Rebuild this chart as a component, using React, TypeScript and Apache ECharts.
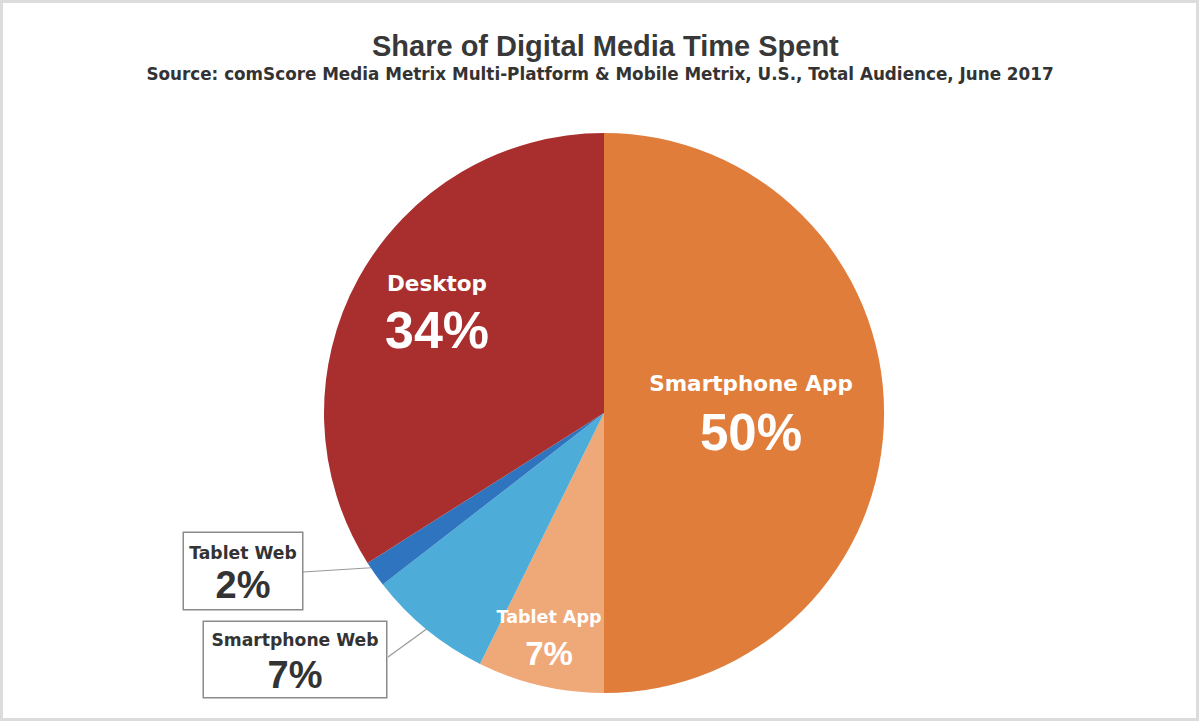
import React, { useEffect, useRef } from "react";
import * as echarts from "echarts";

const titleText = "Share of Digital Media Time Spent";
const subtitleText =
  "Source: comScore Media Metrix Multi-Platform & Mobile Metrix, U.S., Total Audience, June 2017";
const categories = ["Smartphone App", "Tablet App", "Smartphone Web", "Tablet Web", "Desktop"];
const shares = [50, 7.3, 7.2, 1.5, 34];
const sliceColors = ["#E17D3B", "#EFA878", "#4DADD8", "#2F74BF", "#A82F2E"];

// label layout (centres of label blocks), kept apart from data
const labelCentres: number[][] = [
  [751, 414],
  [549, 640],
  [295, 659.5],
  [243, 571],
  [437, 313],
];

const NAME_FONT = "'DejaVu Sans', Verdana, sans-serif";
const NUM_FONT = "'Liberation Sans', Arial, sans-serif";

function labelFor(i: number) {
  const inside = [
    { n: 21.5, nl: 36, v: 51, vl: 62 },
    { n: 17.5, nl: 26, v: 33, vl: 46 },
    null,
    null,
    { n: 21.5, nl: 34, v: 52, vl: 60 },
  ][i];
  const fmt = (p: any) => `{n|${p.name}}\n{v|${Math.round(p.value)}%}`;
  if (inside) {
    return {
      show: true,
      position: "inside",
      formatter: fmt,
      align: "center",
      rich: {
        n: { fontFamily: NAME_FONT, fontWeight: "bold", fontSize: inside.n, lineHeight: inside.nl, color: "#fff", align: "center" },
        v: { fontFamily: NUM_FONT, fontWeight: "bold", fontSize: inside.v, lineHeight: inside.vl, color: "#fff", align: "center" },
      },
    };
  }
  const box =
    i === 2
      ? { n: 17.2, nl: 26, v: 38, vl: 44, width: 182, padding: [5, 0, 0, 0] }
      : { n: 17.2, nl: 24, v: 38, vl: 40, width: 118, padding: [8, 0, 4, 0] };
  return {
    show: true,
    position: "inside",
    formatter: fmt,
    align: "center",
    backgroundColor: "#fff",
    borderColor: "#8a8a8a",
    borderWidth: 1.5,
    width: box.width,
    padding: box.padding,
    rich: {
      n: { fontFamily: NAME_FONT, fontWeight: "bold", fontSize: box.n, lineHeight: box.nl, color: "#333", align: "center" },
      v: { fontFamily: NUM_FONT, fontWeight: "bold", fontSize: box.v, lineHeight: box.vl, color: "#333", align: "center" },
    },
  };
}

export default function App() {
  const ref = useRef<HTMLDivElement>(null);
  useEffect(() => {
    if (!ref.current) return;
    const chart = echarts.init(ref.current, null, { renderer: "svg" });
    chart.setOption({
      animation: false,
      backgroundColor: "#fff",
      title: [
        {
          text: titleText,
          left: 372,
          top: 31,
          padding: 0,
          textStyle: { fontFamily: NUM_FONT, fontSize: 29, fontWeight: "bold", color: "#383838" },
        },
        {
          text: subtitleText,
          left: "center",
          top: 65,
          padding: 0,
          textStyle: { fontFamily: NAME_FONT, fontSize: 16.8, fontWeight: "bold", color: "#333" },
        },
      ],
      graphic: [
        {
          type: "rect",
          shape: { x: 1.5, y: 1.5, width: 1196, height: 718 },
          style: { fill: "none", stroke: "#dcdcdc", lineWidth: 3 },
          z: 100,
        },
        {
          type: "line",
          shape: { x1: 303, y1: 572, x2: 383, y2: 567 },
          style: { stroke: "#999", lineWidth: 1.2 },
        },
        {
          type: "line",
          shape: { x1: 388, y1: 657, x2: 428, y2: 628 },
          style: { stroke: "#999", lineWidth: 1.2 },
        },
      ],
      series: [
        {
          type: "pie",
          center: [604, 413],
          radius: [0, 280],
          startAngle: 90,
          clockwise: true,
          silent: true,
          labelLine: { show: false },
          labelLayout: (p: any) => {
            const c = labelCentres[p.dataIndex];
            return { x: c[0], y: c[1], align: "center", verticalAlign: "middle" };
          },
          data: categories.map((name, i) => ({
            name,
            value: shares[i],
            itemStyle: { color: sliceColors[i] },
            label: labelFor(i),
          })),
        },
      ],
    });
    return () => chart.dispose();
  }, []);
  return (
    <div
      ref={ref}
      style={{ position: "fixed", left: 0, top: 0, width: 1200, height: 722, background: "#fff" }}
    />
  );
}
